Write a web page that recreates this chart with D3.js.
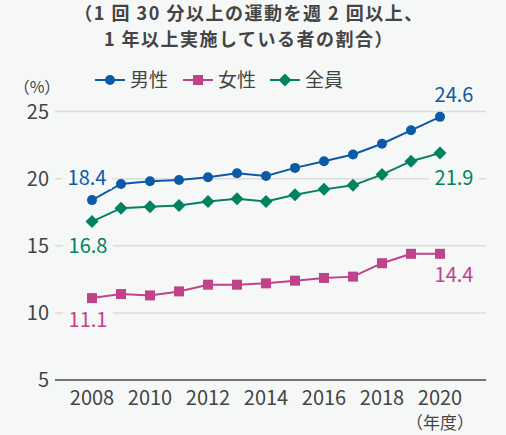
<!DOCTYPE html>
<html>
<head>
<meta charset="utf-8">
<script src="https://cdn.jsdelivr.net/npm/d3@7"></script>
<style>
  body { margin: 0; background: #f6f8f8; }
  svg { display: block; font-family: "Noto Sans CJK JP", "Noto Sans", sans-serif; }
</style>
</head>
<body>
<svg id="chart" width="506" height="435"></svg>
<script>
// data
var years = [2008, 2009, 2010, 2011, 2012, 2013, 2014, 2015, 2016, 2017, 2018, 2019, 2020];
var male   = [18.4, 19.6, 19.8, 19.9, 20.1, 20.4, 20.2, 20.8, 21.3, 21.8, 22.6, 23.6, 24.6];
var female = [11.1, 11.4, 11.3, 11.6, 12.1, 12.1, 12.2, 12.4, 12.6, 12.7, 13.7, 14.4, 14.4];
var total  = [16.8, 17.8, 17.9, 18.0, 18.3, 18.5, 18.3, 18.8, 19.2, 19.5, 20.3, 21.3, 21.9];
var seriesNames = ['男性', '女性', '全員'];
var yTicks = [5, 10, 15, 20, 25];
var xTicks = [2008, 2010, 2012, 2014, 2016, 2018, 2020];
var titleLines = ['（1 回 30 分以上の運動を週 2 回以上、', '1 年以上実施している者の割合）'];

var colors = { '男性': '#0b5aa5', '女性': '#c0428a', '全員': '#00815f' };
var textColor = '#444444';
var bg = '#f6f8f8';

var svg = d3.select('#chart');

var xScale = d3.scaleLinear().domain([2008, 2020]).range([92, 440]);
var yScale = d3.scaleLinear().domain([5, 25]).range([380, 111.5]);

// title
svg.selectAll('.title')
  .data(titleLines)
  .enter()
  .append('text')
  .attr('class', 'title')
  .attr('x', 249)
  .attr('y', function (d, i) { return 20 + i * 26; })
  .attr('text-anchor', 'middle')
  .attr('font-size', 18)
  .attr('font-weight', 'bold')
  .attr('letter-spacing', 1.5)
  .attr('fill', textColor)
  .text(function (d) { return d; });

// unit
svg.append('text')
  .attr('x', 37).attr('y', 87)
  .attr('dy', '0.36em')
  .attr('text-anchor', 'middle')
  .attr('font-size', 16)
  .attr('fill', textColor)
  .text('（%）');

// grid lines
svg.append('g').selectAll('line')
  .data(yTicks.filter(function (d) { return d > 5; }))
  .enter()
  .append('line')
  .attr('x1', 55).attr('x2', 486)
  .attr('y1', function (d) { return yScale(d); })
  .attr('y2', function (d) { return yScale(d); })
  .attr('stroke', '#dcdcdc')
  .attr('stroke-width', 1.5);

// base axis line
svg.append('line')
  .attr('x1', 55).attr('x2', 486)
  .attr('y1', yScale(5)).attr('y2', yScale(5))
  .attr('stroke', '#4a4a4a')
  .attr('stroke-width', 1.5);

// y tick labels
svg.append('g').selectAll('text')
  .data(yTicks)
  .enter()
  .append('text')
  .attr('x', 49)
  .attr('y', function (d) { return yScale(d); })
  .attr('dy', '0.36em')
  .attr('text-anchor', 'end')
  .attr('font-size', 20)
  .attr('fill', textColor)
  .text(function (d) { return d; });

// x tick labels
svg.append('g').selectAll('text')
  .data(xTicks)
  .enter()
  .append('text')
  .attr('x', function (d) { return xScale(d); })
  .attr('y', 398)
  .attr('dy', '0.36em')
  .attr('text-anchor', 'middle')
  .attr('font-size', 20)
  .attr('fill', textColor)
  .text(function (d) { return d; });

svg.append('text')
  .attr('x', 440).attr('y', 423)
  .attr('dy', '0.36em')
  .attr('text-anchor', 'middle')
  .attr('font-size', 17)
  .attr('fill', textColor)
  .text('（年度）');

// series
var series = [
  { name: '男性', values: male, shape: 'circle' },
  { name: '女性', values: female, shape: 'square' },
  { name: '全員', values: total, shape: 'diamond' }
];

var lineGenerator = d3.line()
  .x(function (d) { return xScale(d[0]); })
  .y(function (d) { return yScale(d[1]); });

function drawMarker(g, shape, x, y, color) {
  if (shape === 'circle') {
    g.append('circle').attr('cx', x).attr('cy', y).attr('r', 5).attr('fill', color);
  } else if (shape === 'square') {
    g.append('rect').attr('x', x - 5).attr('y', y - 5).attr('width', 10).attr('height', 10).attr('fill', color);
  } else {
    g.append('path')
      .attr('d', 'M' + x + ',' + (y - 6.5) + 'L' + (x + 6.5) + ',' + y + 'L' + x + ',' + (y + 6.5) + 'L' + (x - 6.5) + ',' + y + 'Z')
      .attr('fill', color);
  }
}

series.forEach(function (s) {
  var color = colors[s.name];
  var pts = years.map(function (yr, i) { return [yr, s.values[i]]; });
  var g = svg.append('g');
  g.append('path')
    .attr('d', lineGenerator(pts))
    .attr('fill', 'none')
    .attr('stroke', color)
    .attr('stroke-width', 2);
  pts.forEach(function (p) {
    drawMarker(g, s.shape, xScale(p[0]), yScale(p[1]), color);
  });
});

// value labels at both ends
var endLabels = [
  { name: '男性', text: male[0].toFixed(1), x: 87, y: 178 },
  { name: '全員', text: total[0].toFixed(1), x: 88, y: 246 },
  { name: '女性', text: female[0].toFixed(1), x: 88, y: 320 },
  { name: '男性', text: male[male.length - 1].toFixed(1), x: 454, y: 95 },
  { name: '全員', text: total[total.length - 1].toFixed(1), x: 454, y: 178 },
  { name: '女性', text: female[female.length - 1].toFixed(1), x: 454, y: 275 }
];

// small patch under each label so grid lines break
endLabels.forEach(function (d) {
  svg.append('rect')
    .attr('x', d.x - 25).attr('y', d.y - 11)
    .attr('width', 50).attr('height', 22)
    .attr('fill', bg);
  svg.append('text')
    .attr('x', d.x).attr('y', d.y)
    .attr('dy', '0.36em')
    .attr('text-anchor', 'middle')
    .attr('font-size', 20)
    .attr('fill', colors[d.name])
    .text(d.text);
});

// legend
var legendX = [95, 183, 270];
series.forEach(function (s, i) {
  var color = colors[s.name];
  var g = svg.append('g');
  var x0 = legendX[i];
  g.append('line')
    .attr('x1', x0).attr('x2', x0 + 30)
    .attr('y1', 80).attr('y2', 80)
    .attr('stroke', color).attr('stroke-width', 2);
  drawMarker(g, s.shape, x0 + 15, 80, color);
  g.append('text')
    .attr('x', x0 + 35).attr('y', 80)
    .attr('dy', '0.36em')
    .attr('font-size', 19)
    .attr('fill', textColor)
    .text(s.name);
});
</script>
</body>
</html>
